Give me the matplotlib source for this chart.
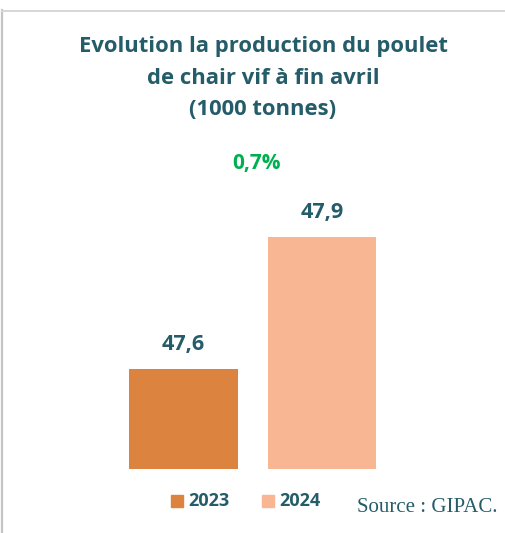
import matplotlib
matplotlib.use("Agg")
import matplotlib.pyplot as plt
from matplotlib.patches import Rectangle
from matplotlib.lines import Line2D

years = ["2023", "2024"]
production = [47.6, 47.9]
value_labels = ["47,6", "47,9"]
change_label = "0,7%"
title = "Evolution la production du poulet\nde chair vif à fin avril\n(1000 tonnes)"
source = "Source : GIPAC."

W, H = 506, 533
DPI = 100
teal = "#245C69"
colors = ["#DC843F", "#F8B792"]
green = "#00B050"
font = "Open Sans"

fig = plt.figure(figsize=(W / DPI, H / DPI), dpi=DPI)
fig.patch.set_facecolor("white")

def fx(px):
    return px / W

def fy(py):
    return 1 - py / H

# frame lines (left and top edges of the chart area)
fig.add_artist(Line2D([fx(2), fx(2)], [fy(10), fy(533)], color="#C4C4C4", lw=1.6))
fig.add_artist(Line2D([fx(2), fx(506)], [fy(10.5), fy(10.5)], color="#D6D6D6", lw=1.4))

# bar plot area
ax_left, ax_right = 114.25, 391.25
ax_bottom, ax_top = 468.7, 140.0
ax = fig.add_axes([fx(ax_left), fy(ax_bottom), fx(ax_right - ax_left), (ax_bottom - ax_top) / H])
ax.set_xlim(-0.5, 1.5)
ax.set_ylim(47.373, 48.12)
ax.axis("off")

xs = list(range(len(years)))
ax.bar(xs, [v - 47.373 for v in production], bottom=47.373, width=0.787, color=colors)
for x, v, lab in zip(xs, production, value_labels):
    ax.annotate(lab, (x, v), xytext=(0, 17.5), textcoords="offset points",
                ha="center", va="center", fontsize=15.5, fontweight="bold",
                color=teal, family=font)

fig.text(fx(257), fy(164), change_label, ha="center", va="center", fontsize=15,
         fontweight="bold", color=green, family=font)

fig.text(fx(263), fy(78), title, ha="center", va="center", fontsize=15.8,
         fontweight="bold", color=teal, family=font, linespacing=1.68)

# legend
for (x0, lab, c) in [(171, years[0], colors[0]), (262, years[1], colors[1])]:
    fig.add_artist(Rectangle((fx(x0), fy(507)), fx(12), 12 / H, color=c,
                             transform=fig.transFigure))
    fig.text(fx(x0 + 17), fy(501.5), lab, ha="left", va="center", fontsize=13,
             fontweight="bold", color=teal, family=font)

fig.text(fx(357), fy(507), source, ha="left", va="center", fontsize=15,
         color=teal, family="Liberation Serif")

fig.savefig("out.png", dpi=DPI)
